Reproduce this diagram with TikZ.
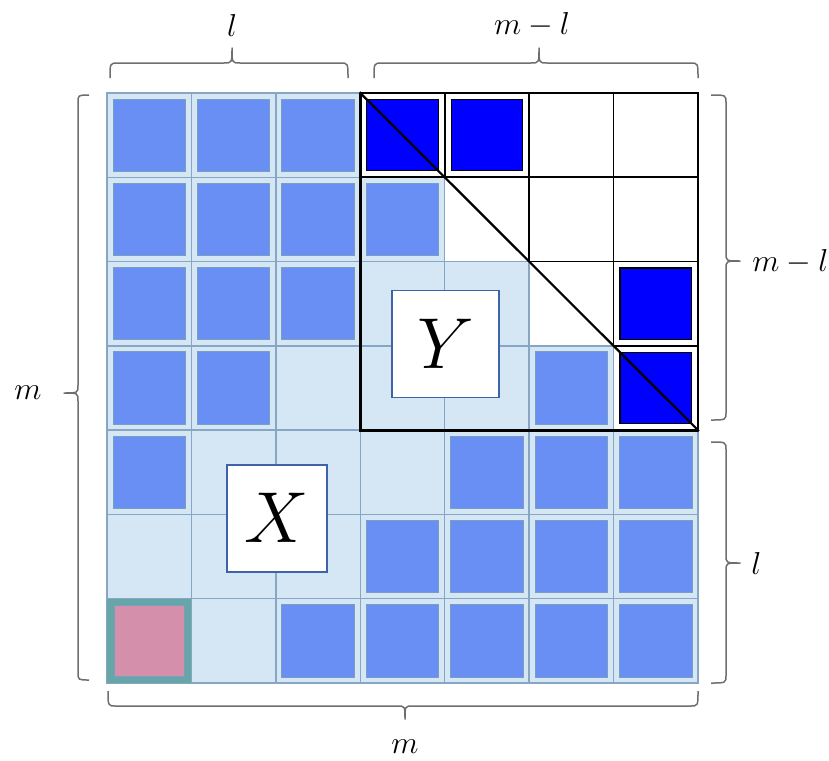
\documentclass[tikz,border=0pt]{standalone}
\definecolor{cellbg}{HTML}{D5E6F5}
\definecolor{gridline}{HTML}{86A6C4}
\definecolor{midblue}{HTML}{6A8FF4}
\definecolor{midedge}{HTML}{7A9EC0}
\definecolor{deepblue}{HTML}{0000FF}
\definecolor{pinkfill}{HTML}{D48FAB}
\definecolor{tealcell}{HTML}{66A6A8}
\definecolor{boxedge}{HTML}{3F63A8}
\definecolor{bracegrey}{HTML}{6E6E6E}
\tikzset{
  cellline/.style={draw=gridline, line width=0.75pt},
  midsq/.style={fill=midblue, draw=midedge, line width=0.5pt},
  deepsq/.style={fill=deepblue, draw=black, line width=0.6pt},
  thinblack/.style={draw=black, line width=0.8pt},
  thickblack/.style={draw=black, line width=1.6pt, line cap=round},
  letterbox/.style={draw=boxedge, fill=white, line width=0.9pt, inner sep=0pt,
    font=\fontsize{24.88}{30}\selectfont},
  bracestyle/.style={draw=bracegrey, line width=0.75pt, line join=round},
  lbl/.style={font=\fontsize{14.4}{18}\selectfont, inner sep=0pt, scale=1.1}
}
\begin{document}
\begin{tikzpicture}[x=0.5pt,y=-0.5pt]
\useasboundingbox (0,0) rectangle (829,760);
% ---------- grid of cells ----------
\begin{scope}[shift={(53.5pt,-46.5pt)}, x=42.215pt, y=-42.145pt]
  \foreach \r in {0,...,6}{
    \foreach \c in {0,...,6}{
      \pgfmathtruncatemacro\d{\c-\r}
      \ifnum\d>2
        \path[fill=white] (\c,\r) rectangle (\c+1,\r+1);
      \else
        \path[fill=cellbg] (\c,\r) rectangle (\c+1,\r+1);
      \fi
    }
  }
  \foreach \r in {0,...,6}{
    \foreach \c in {0,...,6}{
      \path[cellline] (\c,\r) rectangle (\c+1,\r+1);
    }
  }
  % pink cell
  \path[fill=tealcell] (0,6) rectangle (1,7);
  \path[fill=pinkfill, draw=midedge, line width=0.5pt]
    ([shift={(3.5pt,-3.5pt)}]0,6) rectangle ([shift={(-3.5pt,3.5pt)}]1,7);
  % medium blue squares
  \foreach \r/\c in {0/0,0/1,0/2,1/0,1/1,1/2,1/3,2/0,2/1,2/2,3/0,3/1,3/5,
                     4/0,4/4,4/5,4/6,5/3,5/4,5/5,5/6,6/2,6/3,6/4,6/5,6/6}{
    \path[midsq] ([shift={(3pt,-3pt)}]\c,\r) rectangle ([shift={(-3pt,3pt)}]\c+1,\r+1);
  }
  % deep blue squares
  \foreach \r/\c in {0/3,0/4,2/6,3/6}{
    \path[deepsq] ([shift={(3.2pt,-3.2pt)}]\c,\r) rectangle ([shift={(-3.2pt,3.2pt)}]\c+1,\r+1);
  }
  % black grid of the upper triangle
  \path[thinblack] (3,0) -- (7,0) -- (7,4);
  \path[thinblack] (3,1) -- (7,1);
  \path[thinblack] (5,2) -- (7,2);
  \path[thinblack] (6,3) -- (7,3);
  \path[thinblack] (4,0) -- (4,1);
  \path[thinblack] (5,0) -- (5,2);
  \path[thinblack] (6,0) -- (6,3);
  % triangle outline
  \coordinate (tl) at (3,0);
  \coordinate (bl) at (3,4);
  \coordinate (br) at (7,4);
  \path[draw=black, line width=1.1pt] (tl) -- (br);
  \path[thickblack] (tl) -- (bl) -- (br);
\end{scope}
% ---------- letter boxes ----------
\node[letterbox, minimum width=53.5pt, minimum height=53.5pt] (Ybox) at (445.5,344) {\scalebox{1.45}{$Y$}};
\node[letterbox, minimum width=50pt, minimum height=53.5pt] (Xbox) at (276.7,518.3) {\scalebox{1.45}{$X$}};
% ---------- braces (drawn as paths) ----------
% top left
\path[bracestyle] (110,78) .. controls (110,63) .. (118,63) -- (224,63)
   .. controls (232,63) .. (232,48) .. controls (232,63) .. (240,63) -- (340,63)
   .. controls (348,63) .. (348,78);
% top right
\path[bracestyle] (374,78) .. controls (374,63) .. (382,63) -- (531,63)
   .. controls (539,63) .. (539,48) .. controls (539,63) .. (547,63) -- (690,63)
   .. controls (698,63) .. (698,78);
% right upper
\path[bracestyle] (711,95) .. controls (726,95) .. (726,103) -- (726,253)
   .. controls (726,261) .. (740,261) .. controls (726,261) .. (726,269) -- (726,412)
   .. controls (726,420) .. (711,420);
% right lower
\path[bracestyle] (711,442) .. controls (726,442) .. (726,450) -- (726,555)
   .. controls (726,563) .. (740,563) .. controls (726,563) .. (726,571) -- (726,675)
   .. controls (726,683) .. (711,683);
% left
\path[bracestyle] (89,95) .. controls (78,95) .. (78,103) -- (78,385)
   .. controls (78,393) .. (64,393) .. controls (78,393) .. (78,401) -- (78,672)
   .. controls (78,680) .. (89,680);
% bottom
\path[bracestyle] (108,691) .. controls (108,706) .. (116,706) -- (397,706)
   .. controls (405,706) .. (405,719) .. controls (405,706) .. (413,706) -- (690,706)
   .. controls (698,706) .. (698,691);
% ---------- labels ----------
\node[lbl] (ltop) at (232,25) {$l$};
\node[lbl] (mltop) at (532,25) {$m-l$};
\node[lbl, anchor=west] (mlright) at (752,262) {$m-l$};
\node[lbl, anchor=west] (lright) at (751,563) {$l$};
\node[lbl] (mleft) at (28,393) {$m$};
\node[lbl] (mbot) at (405,747) {$m$};
\end{tikzpicture}
\end{document}
